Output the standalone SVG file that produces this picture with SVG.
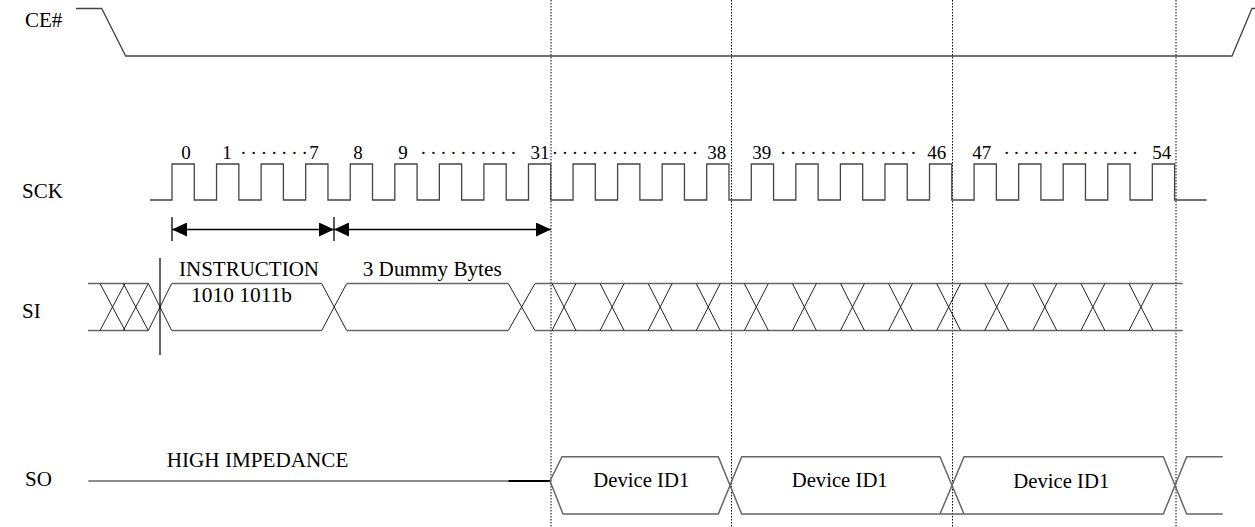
<svg xmlns="http://www.w3.org/2000/svg" width="1255" height="527" viewBox="0 0 1255 527">
<style>
text{font-family:"Liberation Serif","Times New Roman",serif;fill:#000;}
.lbl{font-size:21px;}
.num{font-size:19px;}
.txt{font-size:20px;}
.wave{fill:none;stroke:#444;stroke-width:1.3;}
.bus{fill:none;stroke:#666;stroke-width:1.5;}
.x{fill:none;stroke:#222;stroke-width:1;}
.guide{fill:none;stroke:#000;stroke-width:1;stroke-dasharray:1.5,1.5;}
.arr{fill:none;stroke:#000;stroke-width:1.3;}
</style>
<defs>
<marker id="ah" viewBox="0 0 15 14" refX="15" refY="7" markerWidth="15" markerHeight="14" markerUnits="userSpaceOnUse" orient="auto-start-reverse">
<path d="M0,0 L15,7 L0,14 Z" fill="#000"/>
</marker>
</defs>
<rect width="1255" height="527" fill="#fff"/>

<g id="labels">
<text class="lbl" x="25" y="27">CE#</text>
<text class="lbl" x="22" y="198">SCK</text>
<text class="lbl" x="22" y="318">SI</text>
<text class="lbl" x="25" y="486">SO</text>
</g>

<g id="guides">
<line class="guide" x1="551" y1="0" x2="551" y2="527"/>
<line class="guide" x1="731.5" y1="0" x2="731.5" y2="527"/>
<line class="guide" x1="952.5" y1="0" x2="952.5" y2="527"/>
<line class="guide" x1="1176" y1="0" x2="1176" y2="527"/>
</g>

<g id="ce">
<path class="wave" d="M76,8.5 H101.7 L125.7,56 H1232 L1252,8.5 H1255"/>
</g>

<g id="sck">
<path class="wave" d="M150,200 H172 v-36h22.28v36h22.28 v-36h22.28v36h22.28 v-36h22.28v36h22.28 v-36h22.28v36h22.28 v-36h22.28v36h22.28 v-36h22.28v36h22.28 v-36h22.28v36h22.28 v-36h22.28v36h22.28 v-36h22.28v36h22.28 v-36h22.28v36h22.28 v-36h22.28v36h22.28 v-36h22.28v36h22.28 v-36h22.28v36h22.28 v-36h22.28v36h22.28 v-36h22.28v36h22.28 v-36h22.28v36h22.28 v-36h22.28v36h22.28 v-36h22.28v36h22.28 v-36h22.28v36h22.28 v-36h22.28v36h22.28 v-36h22.28v36h22.28 v-36h22.28v36h22.28 v-36h22.28v36 H1206.7"/>
<text class="num" x="186" y="159" text-anchor="middle">0</text>
<text class="num" x="227" y="159" text-anchor="middle">1</text>
<text class="num" x="240.2" y="159" textLength="67.7" lengthAdjust="spacing">·······</text>
<text class="num" x="314" y="159" text-anchor="middle">7</text>
<text class="num" x="358" y="159" text-anchor="middle">8</text>
<text class="num" x="403" y="159" text-anchor="middle">9</text>
<text class="num" x="420.2" y="159" textLength="96.3" lengthAdjust="spacing">··········</text>
<text class="num" x="540" y="159" text-anchor="middle">31</text>
<text class="num" x="551.8" y="159" textLength="146.4" lengthAdjust="spacing">···············</text>
<text class="num" x="716.7" y="159" text-anchor="middle">38</text>
<text class="num" x="761.7" y="159" text-anchor="middle">39</text>
<text class="num" x="780.1" y="159" textLength="136.5" lengthAdjust="spacing">··············</text>
<text class="num" x="936.7" y="159" text-anchor="middle">46</text>
<text class="num" x="981.7" y="159" text-anchor="middle">47</text>
<text class="num" x="1003.5" y="159" textLength="134.6" lengthAdjust="spacing">··············</text>
<text class="num" x="1161.7" y="159" text-anchor="middle">54</text>
</g>

<g id="connectors">
<line class="arr" x1="172" y1="217" x2="172" y2="241"/>
<line class="arr" x1="334" y1="217" x2="334" y2="241"/>
<line class="arr" x1="172" y1="229.5" x2="334" y2="229.5" marker-start="url(#ah)" marker-end="url(#ah)"/>
<line class="arr" x1="334" y1="229.5" x2="551" y2="229.5" marker-start="url(#ah)" marker-end="url(#ah)"/>
</g>

<g id="si">
<path class="bus" d="M88,283.5 H148.3 M88,330.5 H148.3"/>
<path class="x" d="M100,283.5 L125,330.5 M100,330.5 L125,283.5 M123.3,283.5 L148.3,330.5 M123.3,330.5 L148.3,283.5 M148.3,283.5 L171.7,330.5 M148.3,330.5 L171.7,283.5"/>
<line x1="160" y1="258" x2="160" y2="355" stroke="#000" stroke-width="1.2"/>
<path class="bus" d="M171.7,283.5 H321.7 M171.7,330.5 H321.7"/>
<path class="x" d="M321.7,283.5 L346.7,330.5 M321.7,330.5 L346.7,283.5"/>
<path class="bus" d="M346.7,283.5 H508.3 M346.7,330.5 H508.3"/>
<path class="x" d="M508.3,283.5 L535,330.5 M508.3,330.5 L535,283.5"/>
<path class="bus" d="M535,283.5 H1182.7 M535,330.5 H1182.7"/>
<path class="x" d="M552,283.5 L576,330.5 M552,330.5 L576,283.5 M600.08,283.5 L624.08,330.5 M600.08,330.5 L624.08,283.5 M648.16,283.5 L672.16,330.5 M648.16,330.5 L672.16,283.5 M696.24,283.5 L720.24,330.5 M696.24,330.5 L720.24,283.5 M744.32,283.5 L768.32,330.5 M744.32,330.5 L768.32,283.5 M792.4,283.5 L816.4,330.5 M792.4,330.5 L816.4,283.5 M840.48,283.5 L864.48,330.5 M840.48,330.5 L864.48,283.5 M888.56,283.5 L912.56,330.5 M888.56,330.5 L912.56,283.5 M936.64,283.5 L960.64,330.5 M936.64,330.5 L960.64,283.5 M984.72,283.5 L1008.72,330.5 M984.72,330.5 L1008.72,283.5 M1032.8,283.5 L1056.8,330.5 M1032.8,330.5 L1056.8,283.5 M1080.88,283.5 L1104.88,330.5 M1080.88,330.5 L1104.88,283.5 M1128.96,283.5 L1152.96,330.5 M1128.96,330.5 L1152.96,283.5"/>
<text class="txt" x="179" y="276" textLength="140" lengthAdjust="spacingAndGlyphs">INSTRUCTION</text>
<text class="txt" x="362.7" y="276" textLength="139" lengthAdjust="spacingAndGlyphs">3 Dummy Bytes</text>
<text class="txt" x="191" y="301.7" textLength="101" lengthAdjust="spacingAndGlyphs">1010 1011b</text>
</g>

<g id="so">
<line x1="88.3" y1="481" x2="508.3" y2="481" stroke="#666" stroke-width="1.5"/>
<line x1="508.3" y1="481" x2="550" y2="481" stroke="#000" stroke-width="2.2"/>
<path class="bus" d="M550,481 L562,456.7 H718.3 L741.7,514 H964 L963.9,514 M550,481 L563,514 H718.3 L741.7,456.7 H940 L964,514 H1163.3 L1186.7,456.7 H1222.7 M940,514 L964,456.7 H1163.3 L1186.7,514 H1222.7"/>
<text class="txt" x="166.7" y="467.3" textLength="181.7" lengthAdjust="spacingAndGlyphs">HIGH IMPEDANCE</text>
<text class="txt" x="593.3" y="486.7" textLength="96" lengthAdjust="spacingAndGlyphs">Device ID1</text>
<text class="txt" x="791.7" y="486.7" textLength="96" lengthAdjust="spacingAndGlyphs">Device ID1</text>
<text class="txt" x="1013.3" y="488.3" textLength="96" lengthAdjust="spacingAndGlyphs">Device ID1</text>
</g>
</svg>
